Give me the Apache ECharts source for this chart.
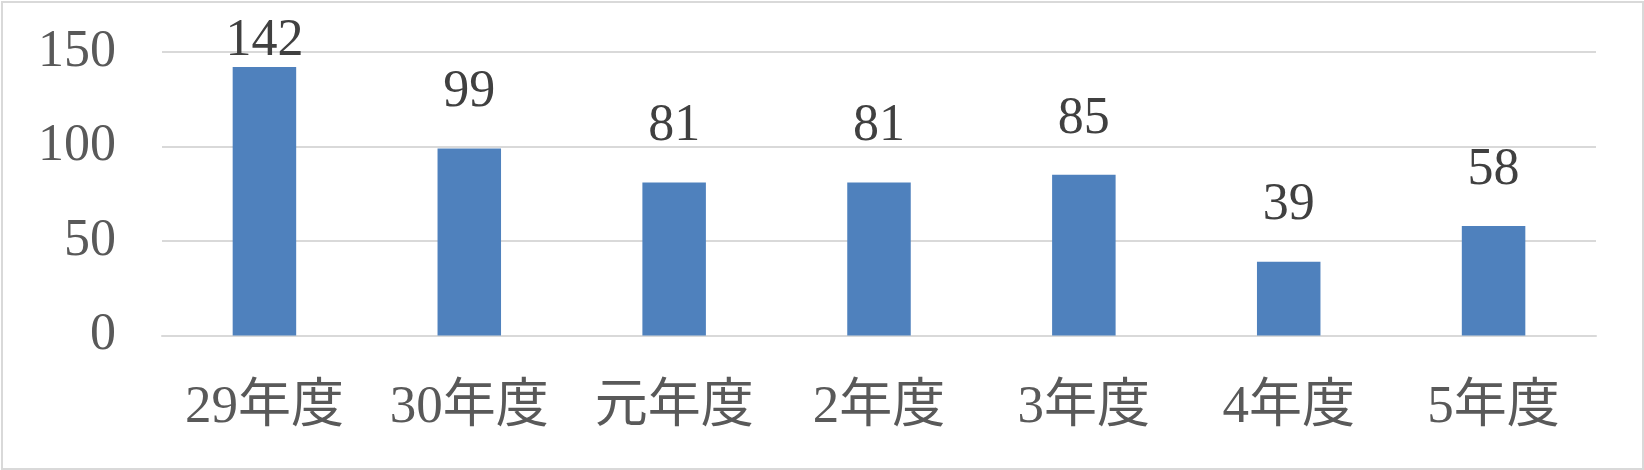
<!DOCTYPE html>
<html>
<head>
<meta charset="utf-8">
<script src="https://cdn.jsdelivr.net/npm/echarts@6/dist/echarts.min.js"></script>
<style>
html,body{margin:0;padding:0;background:#fff;}
#wrap{position:relative;width:1644px;height:470px;}
#frame{position:absolute;left:1px;top:1px;width:1639px;height:465px;border:2px solid #d9d9d9;pointer-events:none;}
#chart{position:absolute;left:0;top:0;width:1644px;height:470px;}
</style>
</head>
<body>
<div id="wrap"><div id="chart"></div><div id="frame"></div></div>
<script>
const categories = ['29年度', '30年度', '元年度', '2年度', '3年度', '4年度', '5年度'];
const values = [142, 99, 81, 81, 85, 39, 58];
const yTicks = [0, 50, 100, 150];

const FONT = "'Liberation Serif', 'Noto Sans CJK JP', serif";
const chart = echarts.init(document.getElementById('chart'), null, {renderer: 'canvas'});
chart.setOption({
  animation: false,
  backgroundColor: '#fff',
  grid: {left: 162, right: 48, top: 52, bottom: 134.5, containLabel: false},
  xAxis: {
    type: 'category',
    data: categories,
    axisTick: {show: false},
    axisLine: {show: true, lineStyle: {color: '#d9d9d9', width: 2}},
    axisLabel: {color: '#595959', fontFamily: FONT, fontSize: 53, margin: 46, interval: 0, hideOverlap: false}
  },
  yAxis: {
    type: 'value',
    min: yTicks[0],
    max: yTicks[yTicks.length - 1],
    interval: yTicks[1] - yTicks[0],
    axisLine: {show: false},
    axisTick: {show: false},
    splitLine: {lineStyle: {color: '#d9d9d9', width: 2}},
    axisLabel: {color: '#595959', fontFamily: FONT, fontSize: 52, margin: 46}
  },
  series: [{
    type: 'bar',
    barWidth: '31%',
    itemStyle: {color: '#4f81bd'},
    data: values.map((v, i) => i === 0 ? {value: v, label: {distance: 0}} : v),
    label: {
      show: true,
      position: 'top',
      distance: 30,
      color: '#404040',
      fontFamily: FONT,
      fontSize: 52
    }
  }]
});
</script>
</body>
</html>
